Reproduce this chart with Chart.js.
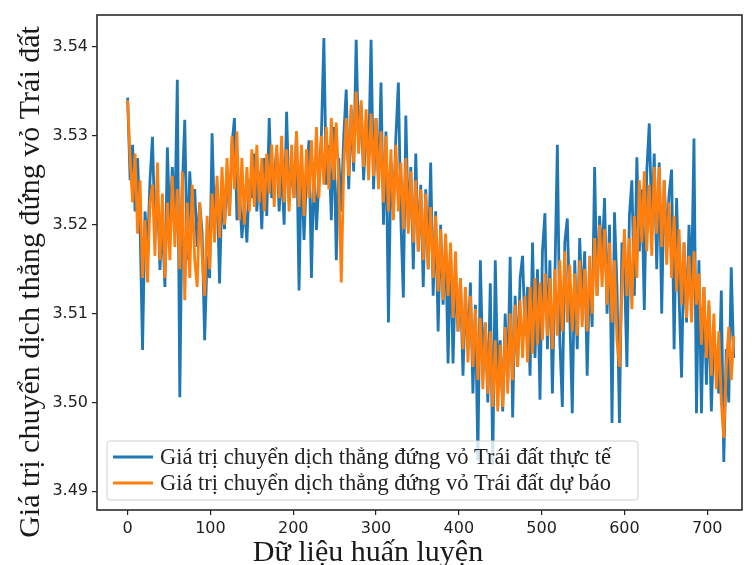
<!DOCTYPE html>
<html>
<head>
<meta charset="utf-8">
<script src="https://cdn.jsdelivr.net/npm/chart.js@4.4.1/dist/chart.umd.min.js"></script>
<style>
  html, body { margin: 0; padding: 0; background: #fff; }
  #wrap { width: 753px; height: 565px; position: relative; }
</style>
</head>
<body>
<div id="wrap"><canvas id="c" width="753" height="565"></canvas></div>
<script>
// ---- data (every 3rd training sample) ----
const actual = [
  3.5343, 3.5250, 3.5290, 3.5215, 3.5275, 3.5200, 3.5059, 3.5215, 3.5170, 3.5250,
  3.5299, 3.5190, 3.5240, 3.5149, 3.5205, 3.5130, 3.5287, 3.5195, 3.5265, 3.5205,
  3.5363, 3.5006, 3.5240, 3.5318, 3.5160, 3.5260, 3.5205, 3.5240, 3.5175, 3.5225,
  3.5190, 3.5070, 3.5165, 3.5140, 3.5303, 3.5200, 3.5245, 3.5134, 3.5240, 3.5195,
  3.5260, 3.5210, 3.5290, 3.5320, 3.5205, 3.5240, 3.5185, 3.5225, 3.5180, 3.5250,
  3.5230, 3.5280, 3.5215, 3.5260, 3.5195, 3.5275, 3.5210, 3.5320, 3.5230, 3.5255,
  3.5285, 3.5215, 3.5265, 3.5200, 3.5327, 3.5225, 3.5270, 3.5230, 3.5305, 3.5126,
  3.5280, 3.5183, 3.5255, 3.5295, 3.5140, 3.5270, 3.5194, 3.5250, 3.5300, 3.5410,
  3.5245, 3.5290, 3.5205, 3.5310, 3.5160, 3.5275, 3.5215, 3.5300, 3.5352, 3.5240,
  3.5330, 3.5260, 3.5408, 3.5285, 3.5335, 3.5250, 3.5310, 3.5275, 3.5408, 3.5240,
  3.5320, 3.5245, 3.5360, 3.5200, 3.5305, 3.5090, 3.5270, 3.5215, 3.5300, 3.5360,
  3.5205, 3.5118, 3.5323, 3.5195, 3.5265, 3.5150, 3.5280, 3.5170, 3.5245, 3.5130,
  3.5240, 3.5150, 3.5270, 3.5120, 3.5215, 3.5080, 3.5200, 3.5110, 3.5185, 3.5044,
  3.5175, 3.5044, 3.5150, 3.5080, 3.5140, 3.5030, 3.5120, 3.5060, 3.5135, 3.5010,
  3.5110, 3.4935, 3.5160, 3.5040, 3.5090, 3.5000, 3.5134, 3.4930, 3.5160, 3.5030,
  3.5070, 3.4990, 3.5100, 3.5020, 3.5164, 3.4983, 3.5120, 3.5040, 3.5140, 3.5165,
  3.5075, 3.5130, 3.5030, 3.5180, 3.5050, 3.5150, 3.5003, 3.5170, 3.5213, 3.5060,
  3.5160, 3.5010, 3.5140, 3.5290, 3.5070, 3.4995, 3.5180, 3.5207, 3.5100, 3.4988,
  3.5160, 3.5060, 3.5185, 3.5110, 3.5170, 3.5030, 3.5150, 3.5085, 3.5265, 3.5120,
  3.5210, 3.5160, 3.5230, 3.5100, 3.5200, 3.4977, 3.5214, 3.5130, 3.4977, 3.5180,
  3.5150, 3.5040, 3.5210, 3.5250, 3.5120, 3.5276, 3.5170, 3.5240, 3.5104, 3.5260,
  3.5314, 3.5200, 3.5280, 3.5150, 3.5270, 3.5100, 3.5250, 3.5180, 3.5235, 3.5262,
  3.5060, 3.5230, 3.5120, 3.5028, 3.5180, 3.5090, 3.5200, 3.5130, 3.5297, 3.4988,
  3.5160, 3.4988, 3.5130, 3.5020, 3.5110, 3.4990, 3.5080, 3.5040, 3.5010, 3.5126,
  3.4933, 3.5060, 3.5000, 3.5152, 3.5050
];
const predicted = [
  3.5340, 3.5275, 3.5225, 3.5280, 3.5190, 3.5250, 3.5140, 3.5205, 3.5135, 3.5225,
  3.5245, 3.5165, 3.5270, 3.5160, 3.5235, 3.5140, 3.5225, 3.5160, 3.5255, 3.5175,
  3.5240, 3.5150, 3.5260, 3.5115, 3.5225, 3.5140, 3.5245, 3.5160, 3.5130, 3.5225,
  3.5165, 3.5120, 3.5210, 3.5150, 3.5235, 3.5180, 3.5255, 3.5185, 3.5265, 3.5200,
  3.5275, 3.5210, 3.5300, 3.5240, 3.5305, 3.5205, 3.5275, 3.5200, 3.5265, 3.5215,
  3.5285, 3.5220, 3.5290, 3.5225, 3.5275, 3.5215, 3.5280, 3.5235, 3.5290, 3.5220,
  3.5290, 3.5230, 3.5300, 3.5225, 3.5285, 3.5215, 3.5290, 3.5230, 3.5305, 3.5220,
  3.5290, 3.5210, 3.5285, 3.5230, 3.5295, 3.5225, 3.5310, 3.5230, 3.5300, 3.5245,
  3.5310, 3.5240, 3.5320, 3.5250, 3.5315, 3.5245, 3.5135, 3.5265, 3.5320, 3.5255,
  3.5335, 3.5270, 3.5350, 3.5280, 3.5340, 3.5265, 3.5330, 3.5250, 3.5325, 3.5255,
  3.5320, 3.5240, 3.5305, 3.5225, 3.5300, 3.5215, 3.5285, 3.5205, 3.5290, 3.5215,
  3.5270, 3.5195, 3.5275, 3.5190, 3.5260, 3.5180, 3.5250, 3.5170, 3.5240, 3.5160,
  3.5235, 3.5150, 3.5220, 3.5140, 3.5210, 3.5125, 3.5195, 3.5115, 3.5190, 3.5120,
  3.5180, 3.5095, 3.5170, 3.5080, 3.5140, 3.5060, 3.5130, 3.5045, 3.5120, 3.5040,
  3.5105, 3.5025, 3.5095, 3.5015, 3.5090, 3.5010, 3.5080, 3.4995, 3.5070, 3.4990,
  3.5065, 3.4995, 3.5085, 3.5010, 3.5100, 3.5025, 3.5110, 3.5040, 3.5115, 3.5050,
  3.5120, 3.5045, 3.5130, 3.5055, 3.5140, 3.5065, 3.5135, 3.5070, 3.5145, 3.5075,
  3.5140, 3.5060, 3.5150, 3.5075, 3.5160, 3.5080, 3.5170, 3.5090, 3.5155, 3.5080,
  3.5145, 3.5075, 3.5160, 3.5085, 3.5150, 3.5080, 3.5165, 3.5100, 3.5185, 3.5120,
  3.5200, 3.5130, 3.5195, 3.5110, 3.5180, 3.5090, 3.5160, 3.5070, 3.5040, 3.5130,
  3.5195, 3.5120, 3.5185, 3.5105, 3.5210, 3.5140, 3.5250, 3.5180, 3.5260, 3.5170,
  3.5245, 3.5165, 3.5265, 3.5190, 3.5265, 3.5175, 3.5250, 3.5155, 3.5225, 3.5140,
  3.5210, 3.5125, 3.5195, 3.5110, 3.5180, 3.5095, 3.5165, 3.5090, 3.5170, 3.5110,
  3.5145, 3.5065, 3.5130, 3.5050, 3.5115, 3.5030, 3.5100, 3.5015, 3.5080, 3.5000,
  3.4960, 3.5040, 3.5085, 3.5025, 3.5075
];
const sampleIndex = actual.map((_, i) => i * 3);   // training-sample index of each value
const xTicks = [0, 100, 200, 300, 400, 500, 600, 700];
const yTicks = [3.49, 3.50, 3.51, 3.52, 3.53, 3.54];
const seriesLabels = [
  'Giá trị chuyển dịch thẳng đứng vỏ Trái đất thực tế',
  'Giá trị chuyển dịch thẳng đứng vỏ Trái đất dự báo'
];
const xTitle = 'Dữ liệu huấn luyện';
const yTitle = 'Giá trị chuyển dịch thẳng đứng vỏ Trái đất';

const BLUE = '#1f77b4', ORANGE = '#ff7f0e';
const SERIF = '"Liberation Serif", "DejaVu Serif", serif';
const SANS = '"DejaVu Sans", sans-serif';

const toPts = vals => vals.map((v, i) => ({ x: sampleIndex[i], y: v }));

const framePlugin = {
  id: 'frame',
  afterDraw(chart) {
    const { ctx, chartArea: a } = chart;
    ctx.save();
    // spines
    ctx.strokeStyle = '#2b2b2b';
    ctx.lineWidth = 1.6;
    ctx.strokeRect(a.left, a.top, a.right - a.left, a.bottom - a.top);

    // legend (lower left, inside axes)
    const lx = a.left + 10, ly = 441, lw = 531, lh = 59;
    ctx.fillStyle = 'rgba(255,255,255,0.8)';
    ctx.strokeStyle = '#d0d0d0';
    ctx.lineWidth = 1;
    ctx.beginPath();
    if (ctx.roundRect) ctx.roundRect(lx, ly, lw, lh, 3); else ctx.rect(lx, ly, lw, lh);
    ctx.fill(); ctx.stroke();
    const ds = chart.data.datasets;
    const rowsY = [457, 483];
    ds.forEach((d, i) => {
      ctx.strokeStyle = d.borderColor;
      ctx.lineWidth = 2.8;
      ctx.beginPath();
      ctx.moveTo(lx + 6, rowsY[i]);
      ctx.lineTo(lx + 46, rowsY[i]);
      ctx.stroke();
      ctx.fillStyle = '#222';
      ctx.font = '22.5px ' + SERIF;
      ctx.textBaseline = 'middle';
      ctx.textAlign = 'left';
      ctx.fillText(d.label, lx + 53, rowsY[i] + 1);
    });

    // axis titles
    ctx.fillStyle = '#1a1a1a';
    ctx.font = '30px ' + SERIF;
    ctx.textAlign = 'center';
    ctx.textBaseline = 'alphabetic';
    ctx.fillText(xTitle, 368, 561);
    ctx.translate(39, 282);
    ctx.rotate(-Math.PI / 2);
    ctx.fillText(yTitle, 0, 0);
    ctx.restore();
  }
};

new Chart(document.getElementById('c'), {
  type: 'line',
  data: {
    datasets: [
      { label: seriesLabels[0], data: toPts(actual), borderColor: BLUE, backgroundColor: BLUE,
        borderWidth: 2.8, pointRadius: 0, tension: 0, order: 1 },
      { label: seriesLabels[1], data: toPts(predicted), borderColor: ORANGE, backgroundColor: ORANGE,
        borderWidth: 2.8, pointRadius: 0, tension: 0, order: 0 }
    ]
  },
  options: {
    responsive: false,
    animation: false,
    devicePixelRatio: 1,
    layout: { padding: { left: 0, top: 15, right: 11, bottom: 0 } },
    plugins: { legend: { display: false }, tooltip: { enabled: false } },
    scales: {
      x: {
        type: 'linear', min: -37, max: 742,
        afterBuildTicks: s => { s.ticks = xTicks.map(v => ({ value: v })); },
        afterFit: s => { s.height = 55; },
        grid: { drawOnChartArea: false, drawTicks: true, tickLength: 5, color: '#222', lineWidth: 1.2 },
        border: { display: false },
        ticks: { color: '#222', font: { family: SANS, size: 16 }, padding: 4, maxRotation: 0,
                 callback: v => String(v) }
      },
      y: {
        type: 'linear', min: 3.4879, max: 3.5436,
        afterBuildTicks: s => { s.ticks = yTicks.map(v => ({ value: v })); },
        afterFit: s => { s.width = 97; },
        grid: { drawOnChartArea: false, drawTicks: true, tickLength: 5, color: '#222', lineWidth: 1.2 },
        border: { display: false },
        ticks: { color: '#222', font: { family: SANS, size: 16 }, padding: 4,
                 callback: v => v.toFixed(2) }
      }
    }
  },
  plugins: [framePlugin]
});
</script>
</body>
</html>
